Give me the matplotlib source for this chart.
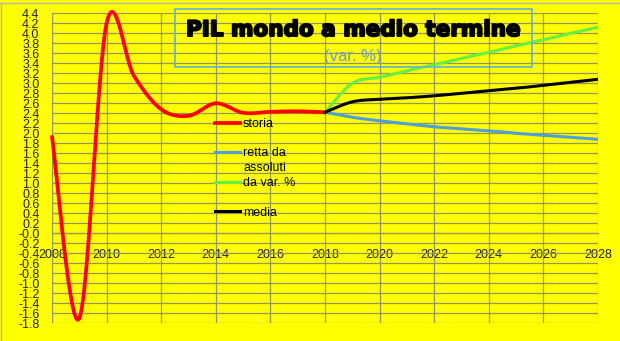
import numpy as np
import matplotlib
matplotlib.use("Agg")
import matplotlib.pyplot as plt
import matplotlib.patheffects as pe
from matplotlib.lines import Line2D
from matplotlib.patches import Rectangle

# crescita PIL mondiale, storico e proiezioni (var. %)
anni_storia = [2008, 2009, 2010, 2011, 2012, 2013, 2014, 2015, 2016, 2017, 2018]
storia = [1.93, -1.70, 4.20, 3.15, 2.48, 2.35, 2.60, 2.41, 2.43, 2.44, 2.42]

anni_prev = [2018, 2019, 2020, 2021, 2022, 2023, 2024, 2025, 2026, 2027, 2028]
retta_assoluti = [2.42, 2.32, 2.25, 2.19, 2.13, 2.09, 2.05, 2.00, 1.96, 1.92, 1.88]
retta_var = [2.42, 3.00, 3.12, 3.25, 3.37, 3.50, 3.62, 3.75, 3.87, 4.00, 4.12]
media = [2.42, 2.63, 2.68, 2.71, 2.75, 2.80, 2.85, 2.90, 2.96, 3.02, 3.08]

x_ticks = list(range(2008, 2029, 2))
y_ticks = np.round(np.arange(-1.8, 4.41, 0.2), 1)

GIALLO = "#ffff00"
GRIGLIA = "#959562"


def smooth(x, y, steps=30):
    # linea smussata tipo Excel (bezier con punti di controllo a 1/6)
    x = np.asarray(x, float)
    y = np.asarray(y, float)
    px = np.concatenate([[x[0]], x, [x[-1]]])
    py = np.concatenate([[y[0]], y, [y[-1]]])
    t = np.linspace(0, 1, steps)
    xs, ys = [], []
    for i in range(1, len(px) - 2):
        x0, x1, x2, x3 = px[i - 1:i + 3]
        y0, y1, y2, y3 = py[i - 1:i + 3]
        cx1, cy1 = x1 + (x2 - x0) / 6, y1 + (y2 - y0) / 6
        cx2, cy2 = x2 - (x3 - x1) / 6, y2 - (y3 - y1) / 6
        a, b, c, d = (1 - t) ** 3, 3 * (1 - t) ** 2 * t, 3 * (1 - t) * t ** 2, t ** 3
        xs.append(a * x1 + b * cx1 + c * cx2 + d * x2)
        ys.append(a * y1 + b * cy1 + c * cy2 + d * y2)
    return np.concatenate(xs), np.concatenate(ys)


plt.rcParams["font.family"] = ["Liberation Sans", "DejaVu Sans"]

fig = plt.figure(figsize=(6.2, 3.41), dpi=100)
fig.patch.set_facecolor(GIALLO)
ax = fig.add_axes([52 / 620, 1 - 323.3 / 341, 546 / 620, 310 / 341])
ax.set_facecolor(GIALLO)

lw = 2.2
ax.plot(*smooth(anni_storia, storia), color="#ff0000", lw=2.7, solid_capstyle="round",
        clip_on=False, zorder=4, label="storia")
ax.plot(*smooth(anni_prev, retta_assoluti), color="#4f9fd8", lw=lw, solid_capstyle="round",
        zorder=3, label="retta da assoluti")
ax.plot(*smooth(anni_prev, retta_var), color="#66f040", lw=lw, solid_capstyle="round",
        zorder=3, label="da var. %")
ax.plot(*smooth(anni_prev, media), color="#000000", lw=lw, solid_capstyle="round",
        zorder=5, label="media")

ax.set_xlim(2008, 2028)
ax.set_ylim(-1.8, 4.4)
ax.set_xticks(x_ticks)
ax.set_yticks(y_ticks)
ax.set_yticklabels([f"{v:.1f}" for v in y_ticks])
ax.grid(True, color=GRIGLIA, lw=0.9)
ax.set_axisbelow(True)
for s in ["top", "right", "left"]:
    ax.spines[s].set_visible(False)
ax.spines["bottom"].set_position(("data", 0))
ax.spines["bottom"].set_color(GRIGLIA)
ax.tick_params(axis="both", length=0, labelsize=9, colors="#222222")
ax.tick_params(axis="x", pad=11)
ax.tick_params(axis="y", pad=9)

# legenda su righe, con righe vuote come nel foglio
vuoto = Line2D([], [], color="none")
handles = [
    Line2D([], [], color="#ff0000", lw=2.7),
    vuoto,
    Line2D([], [], color="#4f9fd8", lw=lw),
    vuoto,
    Line2D([], [], color="#66f040", lw=lw),
    vuoto,
    Line2D([], [], color="#000000", lw=lw),
]
labels = ["storia", " ", "retta da", "assoluti", "da var. %", " ", "media"]
ax.legend(handles, labels, loc="upper left", bbox_to_anchor=(215 / 620, 1 - 118 / 341),
          bbox_transform=fig.transFigure, frameon=False, fontsize=9,
          handlelength=2.0, handletextpad=0.25, labelspacing=0.22, borderpad=0,
          borderaxespad=0)

# riquadro del titolo
fig.add_artist(Rectangle((175 / 620, 1 - 66.7 / 341), 357 / 620, 57.4 / 341,
                         transform=fig.transFigure, fill=False, edgecolor="#6cb6c6", lw=1.3))
fig.text(353 / 620, 1 - 30 / 341, "PIL mondo a medio termine", ha="center", va="center",
         fontsize=15.5, fontweight="bold", family="DejaVu Sans", color="black",
         path_effects=[pe.withStroke(linewidth=1.4, foreground="black")])
fig.text(353 / 620, 1 - 56 / 341, "(var. %)", ha="center", va="center",
         fontsize=12, color="#6f9ad0")

# bordo grigio sopra e a sinistra
fig.add_artist(Line2D([0, 1], [1 - 2.5 / 341] * 2, transform=fig.transFigure, color="#b4b4b4", lw=1))
fig.add_artist(Line2D([1 / 620] * 2, [0, 1 - 2.5 / 341], transform=fig.transFigure, color="#b4b4b4", lw=1))

fig.savefig("out.png", dpi=100, facecolor=GIALLO)
